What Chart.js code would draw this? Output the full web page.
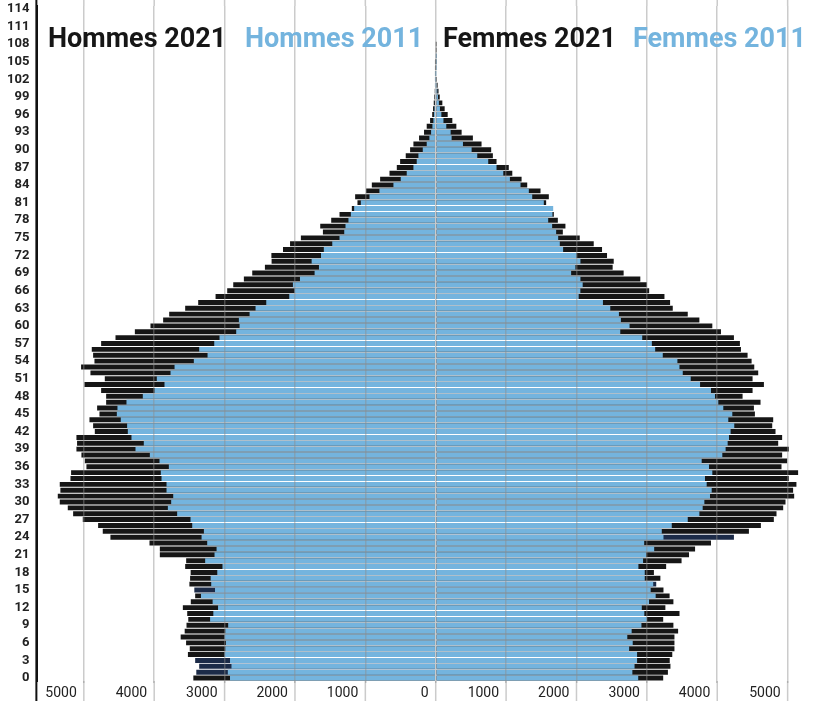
<!DOCTYPE html>
<html>
<head>
<meta charset="utf-8">
<script src="https://cdn.jsdelivr.net/npm/chart.js@4.4.1/dist/chart.umd.min.js"></script>
<style>
  html, body { margin: 0; padding: 0; background: #ffffff; }
  canvas { display: block; }
</style>
</head>
<body>
<canvas id="pyramid" width="820" height="701"></canvas>
<script>
// ---- Data ----
const ages = ["0","1","2","3","4","5","6","7","8","9","10","11","12","13","14","15","16","17","18","19",
  "20","21","22","23","24","25","26","27","28","29","30","31","32","33","34","35","36","37","38","39",
  "40","41","42","43","44","45","46","47","48","49","50","51","52","53","54","55","56","57","58","59",
  "60","61","62","63","64","65","66","67","68","69","70","71","72","73","74","75","76","77","78","79",
  "80","81","82","83","84","85","86","87","88","89","90","91","92","93","94","95","96","97","98","99",
  "100","101","102","103","104","105","106","107","108","109","110","111","112","113","114"];

const ageTickLabels = ["0","3","6","9","12","15","18","21","24","27","30","33","36","39","42","45","48","51",
  "54","57","60","63","66","69","72","75","78","81","84","87","90","93","96","99","102","105","108","111","114"];

const xTickValues = [-5000,-4000,-3000,-2000,-1000,0,1000,2000,3000,4000,5000];

const seriesNames = ["Hommes 2021", "Hommes 2011", "Femmes 2021", "Femmes 2011"];

// Hommes 2021 (ages 0..114)
const hommes2021 = [3444,3402,3361,3418,3521,3495,3547,3624,3567,3541,
  3516,3531,3593,3480,3418,3430,3500,3490,3482,3560,
  3546,3920,3920,4067,4622,4731,4797,5015,5152,5228,
  5342,5370,5333,5342,5190,5181,4963,4986,5034,5105,
  5096,5105,4844,4868,4920,4778,4811,4683,4683,4754,
  4991,4702,4906,5039,4849,4868,4887,4754,4550,4275,
  4053,3873,3787,3560,3375,3128,2963,2877,2726,2607,
  2427,2332,2335,2170,2070,1916,1603,1641,1485,1367,
  1192,1112,1145,989,908,790,657,553,506,426,
  364,317,237,166,128,80,50,38,28,20,
  14,9,5,3,2,1,0,0,0,0,0,0,0,0,0];

// Hommes 2011
const hommes2011 = [2923,2954,2902,2923,3000,2990,2980,3000,2990,2949,
  3206,3160,3093,3170,3335,3136,3190,3198,3104,3030,
  3276,3143,3114,3247,3327,3294,3460,3484,3674,3806,
  3759,3730,3825,3825,3896,3906,3792,3925,4062,4266,
  4148,4323,4375,4385,4475,4531,4522,4394,4162,3996,
  3854,3963,3768,3711,3437,3242,3361,3147,3072,2835,
  2787,2797,2645,2560,2408,2081,2005,2029,1929,1721,
  1659,1763,1630,1590,1470,1367,1300,1282,1240,1206,
  1159,1064,941,800,601,497,412,317,270,246,
  184,128,90,66,47,33,25,18,12,8,
  5,3,2,1,0,0,0,0,0,0,0,0,0,0,0];

// Femmes 2021
const femmes2021 = [3232,3299,3335,3325,3361,3392,3392,3392,3444,3377,
  3232,3464,3263,3377,3323,3236,3133,3192,3100,3274,
  3493,3599,3685,3911,4237,4450,4620,4804,4842,4937,
  4970,5093,5078,5125,5017,5149,4913,4993,4922,5017,
  4866,4922,4828,4781,4795,4535,4521,4615,4360,4502,
  4663,4502,4582,4526,4488,4431,4337,4322,4237,4053,
  3930,3746,3581,3368,3330,3250,3033,3000,2907,2670,
  2514,2529,2434,2363,2245,2046,1806,1843,1735,1678,
  1620,1569,1607,1489,1300,1220,1088,1038,864,812,
  788,651,528,368,293,236,170,127,94,57,
  40,27,18,11,7,4,2,1,1,0,0,0,0,0,0];

// Femmes 2011
const femmes2011 = [2877,2794,2825,2861,2861,2748,2799,2722,2784,2923,
  3000,2964,2928,3031,3125,3054,3090,2970,2970,2880,
  2946,2990,3104,2962,3236,3212,3354,3581,3746,3793,
  3817,3897,3921,3850,3826,3930,3883,3779,4072,4119,
  4148,4167,4190,4242,4157,4214,4086,4015,3968,3911,
  3756,3623,3510,3463,3434,3226,3118,3071,2934,2622,
  2754,2631,2603,2480,2376,2031,2055,2088,2056,1924,
  1985,2056,2000,1810,1763,1740,1711,1654,1598,1659,
  1669,1536,1371,1323,1205,1054,960,864,746,590,
  510,387,226,212,150,110,80,60,45,32,
  22,15,10,6,4,2,1,0,0,0,0,0,0,0,0];

// ---- Styles ----
const BLUE = "#74b4de";
const BLACK = "#161616";
const NAVY = "#1c2b48";
const GRID = "rgba(140,140,140,0.45)";
const darkMenAges = ["1","2","3","15"];
const darkWomenAges = ["16","24"];

const overlayPlugin = {
  id: "overlayLegend",
  beforeDatasetsDraw(chart) {
    // grid lines continue above and below the plot area
    const c = chart.ctx;
    const area = chart.chartArea;
    const xs = chart.scales.x;
    c.save();
    c.strokeStyle = GRID;
    c.lineWidth = 1.5;
    xTickValues.forEach(v => {
      const px = xs.getPixelForValue(v);
      c.beginPath();
      c.moveTo(px, 0); c.lineTo(px, area.top);
      c.moveTo(px, area.bottom); c.lineTo(px, chart.height);
      c.stroke();
    });
    c.restore();
  },
  afterDraw(chart) {
    const c = chart.ctx;
    const area = chart.chartArea;
    c.save();
    // y-axis line runs the full height
    c.strokeStyle = "#111";
    c.lineWidth = 2;
    c.beginPath();
    c.moveTo(area.left - 1, 0);
    c.lineTo(area.left - 1, chart.height);
    c.stroke();
    // legend written across the top of the plot
    const xs = [48, 245, 443, 633];
    const colors = [BLACK, BLUE, BLACK, BLUE];
    c.font = "bold 27px Roboto";
    c.textBaseline = "alphabetic";
    c.textAlign = "left";
    seriesNames.forEach((name, i) => {
      c.fillStyle = colors[i];
      c.fillText(name, xs[i], 47);
    });
    c.restore();
  }
};

const barCommon = { grouped: false, barPercentage: 0.84, categoryPercentage: 1.0, borderWidth: 0 };

new Chart(document.getElementById("pyramid"), {
  type: "bar",
  data: {
    labels: ages,
    datasets: [
      Object.assign({ label: seriesNames[1], data: hommes2011.map(v => -v), backgroundColor: BLUE }, barCommon),
      Object.assign({ label: seriesNames[3], data: femmes2011, backgroundColor: BLUE }, barCommon),
      Object.assign({ label: seriesNames[0], data: hommes2021.map(v => -v),
        backgroundColor: ctx => darkMenAges.includes(ages[ctx.dataIndex]) ? NAVY : BLACK }, barCommon),
      Object.assign({ label: seriesNames[2], data: femmes2021,
        backgroundColor: ctx => darkWomenAges.includes(ages[ctx.dataIndex]) ? NAVY : BLACK }, barCommon)
    ]
  },
  options: {
    indexAxis: "y",
    responsive: false,
    animation: false,
    devicePixelRatio: 1,
    layout: { padding: { left: -1, top: 6, right: 0, bottom: 0 } },
    plugins: {
      legend: { display: false },
      tooltip: { enabled: false }
    },
    scales: {
      x: {
        type: "linear",
        min: -5660,
        max: 5460,
        afterBuildTicks: scale => { scale.ticks = xTickValues.map(v => ({ value: v })); },
        afterFit: scale => { scale.height = 20; scale.paddingLeft = 0; scale.paddingRight = 0; },
        ticks: {
          callback: v => String(Math.abs(v)),
          align: "end",
          labelOffset: -7,
          padding: 2,
          maxRotation: 0,
          autoSkip: false,
          color: "#222",
          font: { family: "Roboto", size: 14 }
        },
        grid: { color: GRID, lineWidth: 1.5, tickLength: 2, drawTicks: true, z: 1 },
        border: { display: false }
      },
      y: {
        type: "category",
        reverse: true,
        offset: true,
        afterFit: scale => { scale.paddingTop = 0; scale.paddingBottom = 0; },
        grid: { display: false, drawTicks: false },
        border: { display: true, color: "#111", width: 2 },
        ticks: {
          autoSkip: false,
          padding: 8,
          color: "#222",
          font: { family: "Roboto", size: 13, weight: "bold" },
          callback: function (v) {
            const lab = this.getLabelForValue(v);
            return ageTickLabels.includes(lab) ? lab : "";
          }
        }
      }
    }
  },
  plugins: [overlayPlugin]
});
</script>
</body>
</html>
